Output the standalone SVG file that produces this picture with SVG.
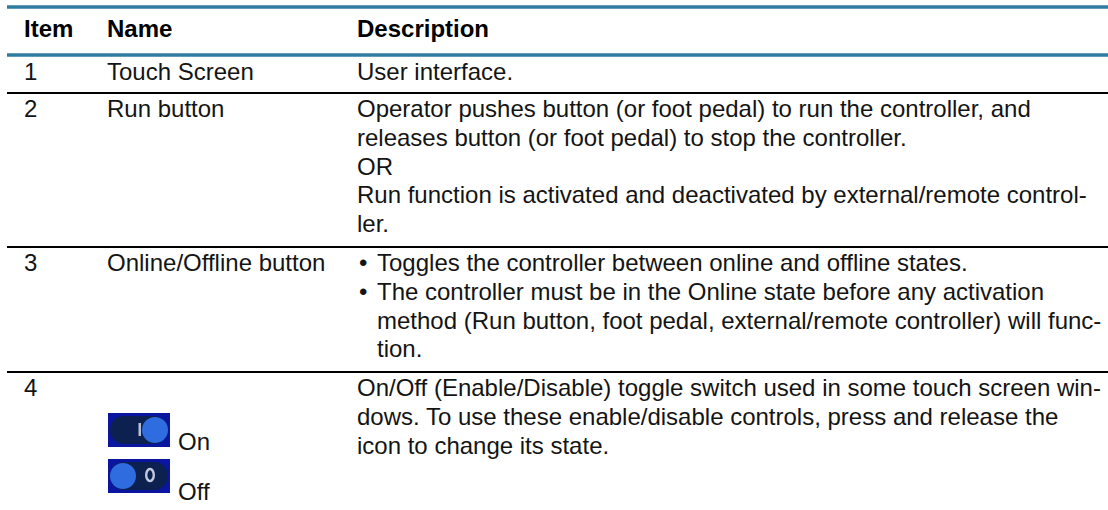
<svg xmlns="http://www.w3.org/2000/svg" width="1108" height="510" viewBox="0 0 1108 510">
  <style>
    text { font-family: "Liberation Sans", Arial, sans-serif; font-size: 24px; fill: #141414; }
    .h { font-weight: bold; fill: #000; }
    .blue { stroke: #2E7CA0; stroke-width: 3.5; }
    .rule { stroke: #000; stroke-width: 2.2; }
    .bg { fill: #0A16A0; }
    .pill { fill: #0C2150; }
    .knob { fill: #2F6CE0; }
  </style>
  <rect width="1108" height="510" fill="#ffffff"/>
  <g id="rules">
    <line class="blue" x1="7" y1="7" x2="1108" y2="7"/>
    <line class="blue" x1="7" y1="55" x2="1108" y2="55"/>
    <line class="rule" x1="7" y1="93" x2="1108" y2="93"/>
    <line class="rule" x1="7" y1="247" x2="1108" y2="247"/>
    <line class="rule" x1="7" y1="372" x2="1108" y2="372"/>
  </g>
  <g id="header">
    <text class="h" x="24" y="37">Item</text>
    <text class="h" x="107" y="37">Name</text>
    <text class="h" x="357" y="37">Description</text>
  </g>
  <g id="row1">
    <text x="24" y="80">1</text>
    <text x="107" y="80">Touch Screen</text>
    <text x="357" y="80">User interface.</text>
  </g>
  <g id="row2">
    <text x="24" y="117">2</text>
    <text x="107" y="117">Run button</text>
    <text x="357" y="117">Operator pushes button (or foot pedal) to run the controller, and</text>
    <text x="357" y="145.8">releases button (or foot pedal) to stop the controller.</text>
    <text x="357" y="174.6">OR</text>
    <text x="357" y="203.4">Run function is activated and deactivated by external/remote control-</text>
    <text x="357" y="232.2">ler.</text>
  </g>
  <g id="row3">
    <text x="24" y="271">3</text>
    <text x="107" y="271">Online/Offline button</text>
    <text x="359" y="271">•</text>
    <text x="377" y="271">Toggles the controller between online and offline states.</text>
    <text x="359" y="299.8">•</text>
    <text x="377" y="299.8">The controller must be in the Online state before any activation</text>
    <text x="377" y="328.6">method (Run button, foot pedal, external/remote controller) will func-</text>
    <text x="377" y="357.4">tion.</text>
  </g>
  <g id="row4">
    <text x="24" y="396">4</text>
    <text x="357" y="396">On/Off (Enable/Disable) toggle switch used in some touch screen win-</text>
    <text x="357" y="424.8">dows. To use these enable/disable controls, press and release the</text>
    <text x="357" y="453.6">icon to change its state.</text>
    <g id="icon-on">
      <rect class="bg" x="108" y="413" width="62" height="34"/>
      <rect class="pill" x="110" y="416" width="58" height="28" rx="14"/>
      <rect x="138.5" y="423" width="2.5" height="13" fill="#B8C0D8"/>
      <circle class="knob" cx="155" cy="430" r="13"/>
    </g>
    <text x="178" y="450">On</text>
    <g id="icon-off">
      <rect class="bg" x="108" y="459" width="62" height="34"/>
      <rect class="pill" x="110" y="462" width="58" height="28" rx="14"/>
      <circle class="knob" cx="123" cy="476" r="13"/>
      <ellipse cx="150" cy="475" rx="3.8" ry="6" fill="none" stroke="#C2C8DC" stroke-width="2.4"/>
    </g>
    <text x="178" y="500">Off</text>
  </g>
</svg>
